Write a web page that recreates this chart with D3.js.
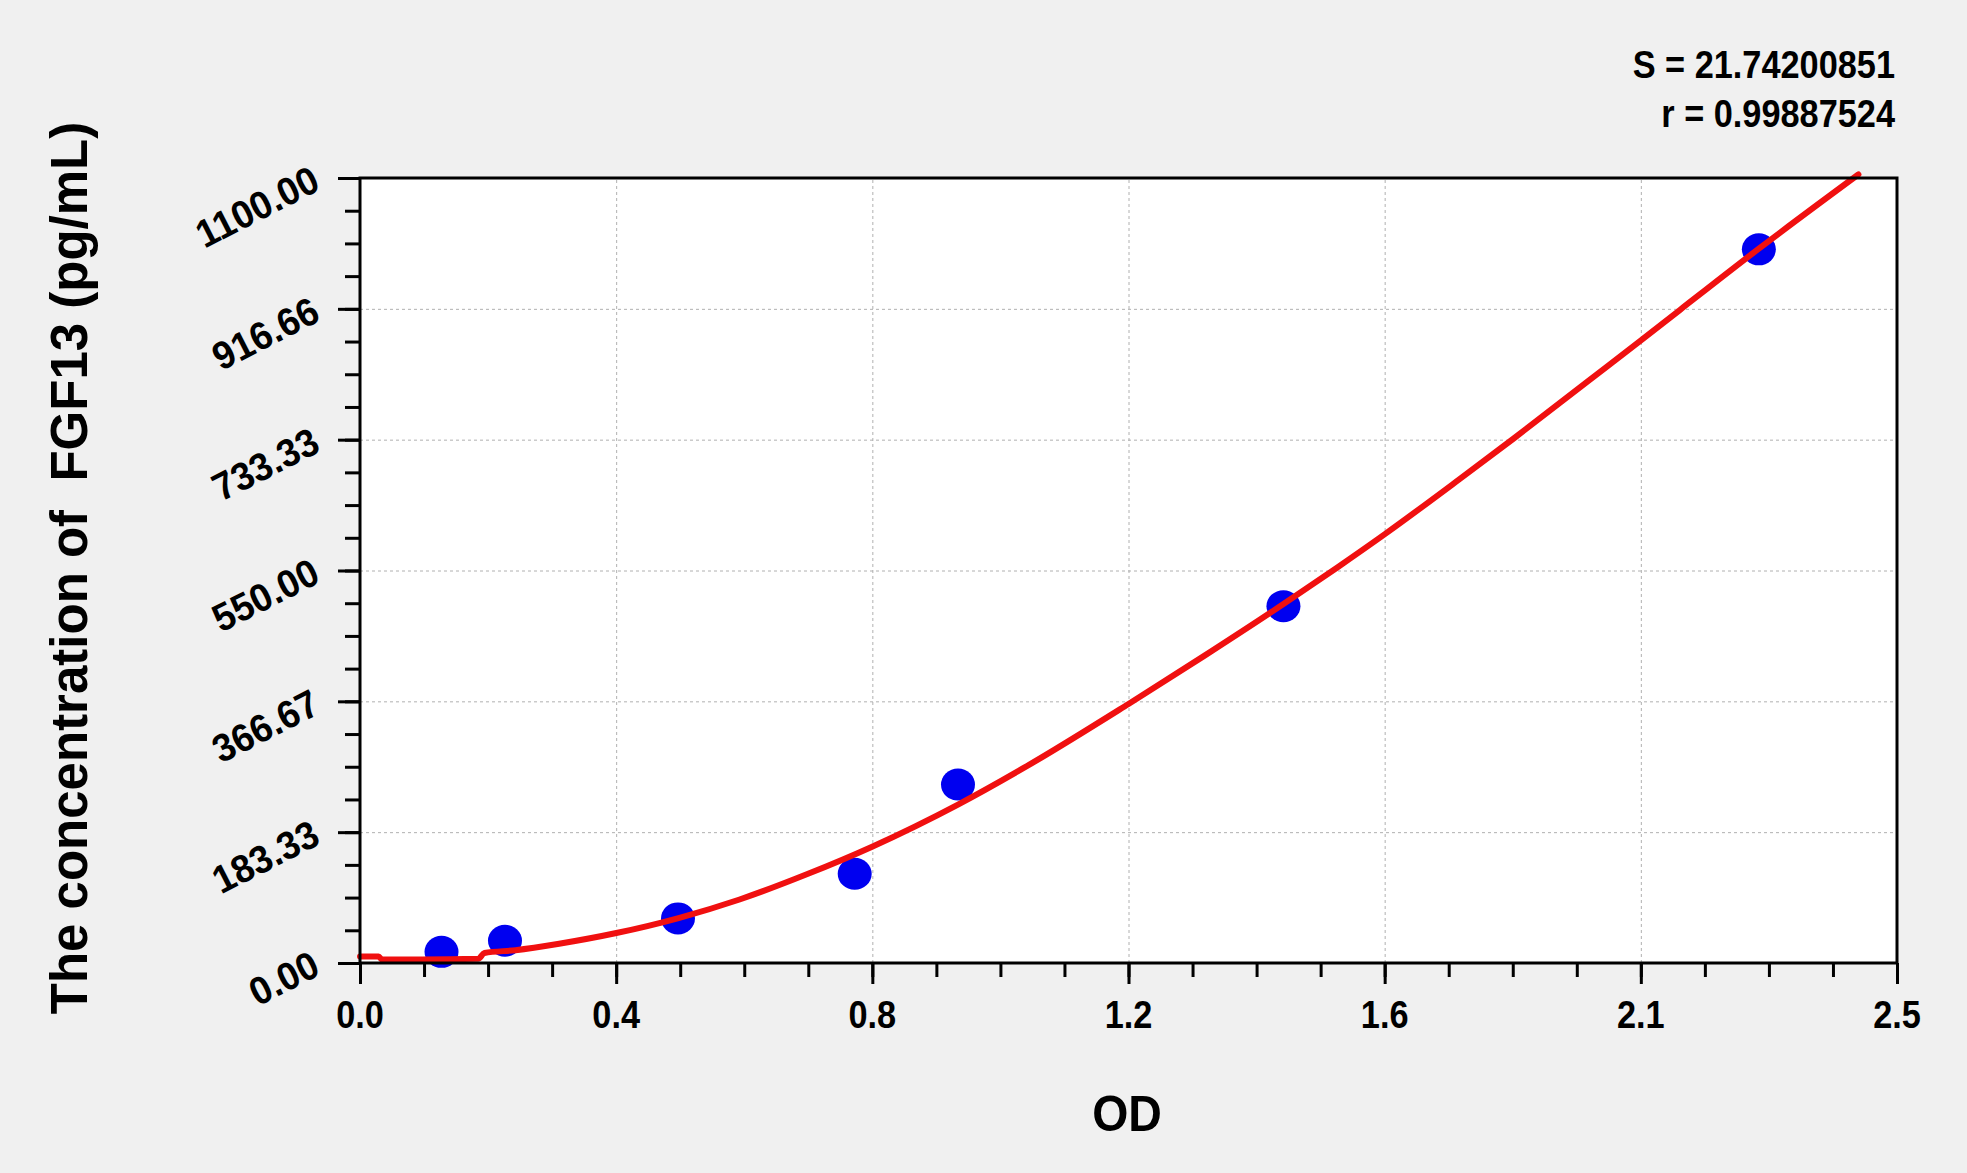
<!DOCTYPE html>
<html><head><meta charset="utf-8">
<script src="https://cdn.jsdelivr.net/npm/d3@7"></script>
<style>
body{margin:0;background:#f0f0f0;}
svg{display:block;background:#f0f0f0;}
text{font-family:"Liberation Sans",Arial,sans-serif;font-weight:bold;fill:#000;}
</style>
</head><body>
<svg id="c" width="1967" height="1173"></svg>
<script>
// ---- data ----
const xTickLabels = ["0.0","0.4","0.8","1.2","1.6","2.1","2.5"];
const yTickLabels = ["0.00","183.33","366.67","550.00","733.33","916.66","1100.00"];
const standardOD   = [0.131, 0.233, 0.511, 0.795, 0.961, 1.484, 2.248];
const standardConc = [15.63, 31.25, 62.5, 125, 250, 500, 1000];
const curveOD   = [0.000,0.030,0.035,0.100,0.190,0.200,0.250,0.320,0.412,0.512,0.610,0.720,0.823,0.961,1.068,1.235,1.356,1.484,1.570,1.647,1.767,1.854,1.973,2.058,2.121,2.248,2.408];
const curveConc = [9,9,5,5,6,14,18,27,42,63,89,125,163,222,274,363,430,503,554,601,678,735,815,872,915,1001,1105];
const statS = "S = 21.74200851";
const statR = "r = 0.99887524";
const xTitle = "OD";
const yTitle = "The concentration of  FGF13 (pg/mL)";
const xMax = 2.47, yMax = 1100;

// ---- layout ----
const svg = d3.select("#c");
const L = 360, R = 1897, T = 178, B = 963;
const x = d3.scaleLinear().domain([0, xMax]).range([L, R]);
const y = d3.scaleLinear().domain([0, yMax]).range([B, T]);

const xMajor = xTickLabels.map((d, i) => i * xMax / (xTickLabels.length - 1));
const yMajor = yTickLabels.map((d, i) => i * yMax / (yTickLabels.length - 1));
const xMinor = d3.range(25).map(i => i * xMax / 24);
const yMinor = d3.range(25).map(i => i * yMax / 24);

// plot background
svg.append("rect").attr("x", L).attr("y", T).attr("width", R - L).attr("height", B - T).attr("fill", "#fff");

// grid
const gx = svg.append("g").attr("transform", `translate(0,${B})`)
  .call(d3.axisBottom(x).tickValues(xMajor.slice(1, -1)).tickSize(-(B - T)).tickFormat(""));
const gy = svg.append("g").attr("transform", `translate(${L},0)`)
  .call(d3.axisLeft(y).tickValues(yMajor.slice(1, -1)).tickSize(-(R - L)).tickFormat(""));
[gx, gy].forEach(g => {
  g.select(".domain").remove();
  g.selectAll("line").attr("stroke", "#b0b0b0").attr("stroke-width", 1).attr("stroke-dasharray", "3,3");
});

// points
svg.append("g").selectAll("ellipse").data(standardOD).join("ellipse")
  .attr("cx", d => x(d)).attr("cy", (d, i) => y(standardConc[i]))
  .attr("rx", 17).attr("ry", 16).attr("fill", "#0000f0");

// fitted curve
const line = d3.line().x(d => x(d[0])).y(d => y(d[1])).curve(d3.curveMonotoneX);
svg.append("path").datum(curveOD.map((d, i) => [d, curveConc[i]]))
  .attr("d", line).attr("fill", "none").attr("stroke", "#f01010").attr("stroke-width", 6)
  .attr("stroke-linejoin", "round").attr("stroke-linecap", "round");

// frame
svg.append("rect").attr("x", L).attr("y", T).attr("width", R - L).attr("height", B - T)
  .attr("fill", "none").attr("stroke", "#000").attr("stroke-width", 3);

// ticks
function tickAxis(axis, tr, vals, size) {
  const g = svg.append("g").attr("transform", tr).call(axis.tickValues(vals).tickSize(size).tickFormat(""));
  g.select(".domain").remove();
  g.selectAll("line").attr("stroke", "#000").attr("stroke-width", 3);
}
tickAxis(d3.axisBottom(x), `translate(0,${B})`, xMinor, 14);
tickAxis(d3.axisBottom(x), `translate(0,${B})`, xMajor, 21);
tickAxis(d3.axisLeft(y), `translate(${L},0)`, yMinor, 15);
tickAxis(d3.axisLeft(y), `translate(${L},0)`, yMajor, 22);

// tick labels
svg.append("g").selectAll("text").data(xMajor).join("text")
  .attr("transform", d => `translate(${x(d)},1028) scale(0.88,1)`)
  .attr("text-anchor", "middle").attr("font-size", 39)
  .text((d, i) => xTickLabels[i]);
svg.append("g").selectAll("text").data(yMajor).join("text")
  .attr("transform", d => `translate(322,${y(d) + 11}) rotate(-27) scale(0.95,1)`)
  .attr("text-anchor", "end").attr("font-size", 39)
  .text((d, i) => yTickLabels[i]);

// titles
svg.append("text").attr("transform", "translate(1127,1131) scale(0.93,1)")
  .attr("text-anchor", "middle").attr("font-size", 50).text(xTitle);
svg.append("text").attr("transform", "translate(87,568) rotate(-90)")
  .attr("text-anchor", "middle").attr("font-size", 51).style("white-space", "pre").text(yTitle);

// statistics
svg.append("text").attr("transform", "translate(1895,78) scale(0.88,1)")
  .attr("text-anchor", "end").attr("font-size", 39).text(statS);
svg.append("text").attr("transform", "translate(1895,127) scale(0.88,1)")
  .attr("text-anchor", "end").attr("font-size", 39).text(statR);
</script>
</body></html>
